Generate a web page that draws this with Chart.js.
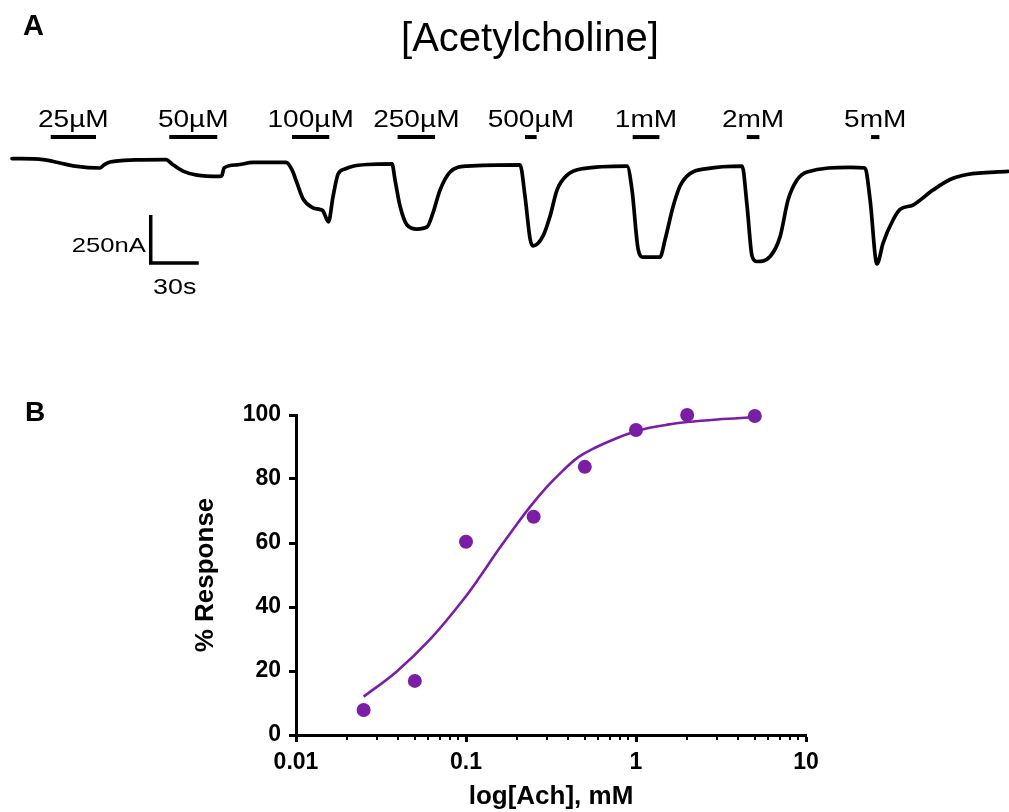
<!DOCTYPE html>
<html>
<head>
<meta charset="utf-8">
<script src="https://cdn.jsdelivr.net/npm/chart.js@4.4.1/dist/chart.umd.min.js"></script>
<style>
  html, body { margin: 0; padding: 0; background: #fff; }
  #figure { position: relative; width: 1009px; height: 812px; overflow: hidden; background: #fff; }
  #traceCanvas { position: absolute; left: 0; top: 0; }
  #doseCanvas { position: absolute; left: 0; top: 380px; }
</style>
</head>
<body>
<div id="figure">
  <canvas id="traceCanvas" width="1009" height="300"></canvas>
  <canvas id="doseCanvas" width="1009" height="432"></canvas>
</div>
<script>
// ---------- Panel A: two-electrode voltage clamp current trace ----------
const traceTimeS = [0, 19.4, 30, 39.4, 55, 57.5, 61.3, 76.9, 96.3, 100, 106.9, 115.6, 130, 131.3, 132.5,
  140.6, 150.6, 171.3, 175, 178.1, 181.9, 188.1, 192.5, 194.4, 197.8, 200.6, 203.8, 208.1, 212.5, 221.9,
  237.5, 239.4, 242.5, 246.9, 253.1, 259.4, 263.1, 267.5, 273.8, 284.4, 317.5, 320.6, 323.8, 325.6, 331.9,
  336.3, 340.6, 346.9, 356.9, 384.4, 387.5, 391.3, 394.4, 405, 408.1, 413.1, 417.5, 423.8, 434.4, 456.3,
  459.4, 462.5, 465.6, 473.8, 480, 485, 490.6, 496.9, 523.8, 533.1, 536.3, 540.6, 544.4, 550.6, 555,
  563.1, 575.6, 586.3, 596.9, 622.5];
const traceCurrentNA = [-3, -8, -26, -42, -52, -36, -21, -10, -8, -31, -68, -89, -96, -89, -52,
  -36, -23, -23, -62, -130, -213, -260, -268, -276, -333, -203, -83, -57, -44, -34,
  -31, -115, -250, -349, -370, -359, -286, -167, -73, -42, -36, -198, -422, -458, -406,
  -302, -167, -89, -55, -42, -167, -474, -516, -516, -427, -255, -146, -81, -55, -42,
  -250, -510, -539, -513, -411, -219, -115, -73, -49, -52, -219, -552, -443, -323, -268,
  -245, -167, -112, -86, -70];

// Acetylcholine applications (start/end in seconds)
const drugLabels = ['25µM', '50µM', '100µM', '250µM', '500µM', '1mM', '2mM', '5mM'];
const drugStartS = [24.2, 98.3, 175, 241, 320.6, 387.9, 459.2, 536.9];
const drugEndS   = [52.5, 128.3, 198.3, 264.4, 327.9, 404.6, 467.1, 542.1];

// Calibration bar
const scaleBarCurrentNA = 250;
const scaleBarTimeS = 30;

// ---------- Panel B: concentration-response ----------
const doseMM = [0.025, 0.05, 0.1, 0.25, 0.5, 1, 2, 5];
const responsePct = [7.8, 16.9, 60.4, 68.2, 83.8, 95.3, 100, 99.7];
const fitMM = [0.025, 0.039, 0.061, 0.096, 0.121, 0.151, 0.19, 0.238, 0.3, 0.373, 0.46, 0.587, 0.75, 0.92, 1.2, 1.5, 2, 3, 5];
const fitPct = [12.0, 19.8, 29.7, 42.2, 49.5, 57.0, 64.4, 71.3, 77.6, 82.7, 86.9, 90.0, 92.5, 94.3, 96.0, 96.9, 97.8, 98.6, 99.3];
const xTickValues = [0.01, 0.1, 1, 10];
const xTickLabels = ['0.01', '0.1', '1', '10'];
const yTickValues = [0, 20, 40, 60, 80, 100];

// ---------- styling ----------
const SANS = '"Liberation Sans", Arial, Helvetica, sans-serif';
const PURPLE = '#7b1ea6';
const BAR_LEVEL_NA = 109;          // height of the application bars above baseline
const SCALE_BAR_T0 = 86.7;         // corner of the calibration bar
const SCALE_BAR_I0 = -547;
const TEXT_STRETCH = 1.22;

function stretchedText(ctx, text, x, y, align, font, sx) {
  ctx.save();
  ctx.font = font;
  ctx.textAlign = align;
  ctx.textBaseline = 'alphabetic';
  ctx.translate(x, y);
  ctx.scale(sx, 1);
  ctx.fillText(text, 0, 0);
  ctx.restore();
}

const traceDecor = {
  id: 'traceDecor',
  afterDraw(chart) {
    const ctx = chart.ctx;
    const xs = chart.scales.x, ys = chart.scales.y;
    ctx.save();
    ctx.fillStyle = '#000';
    ctx.strokeStyle = '#000';

    // panel letter and heading
    ctx.font = 'bold 29px ' + SANS;
    ctx.textAlign = 'left';
    ctx.textBaseline = 'alphabetic';
    ctx.fillText('A', 23, 35);
    ctx.font = '40px ' + SANS;
    ctx.textAlign = 'center';
    ctx.fillText('[Acetylcholine]', 530, 51);

    // concentration labels above each application bar
    const barY = ys.getPixelForValue(BAR_LEVEL_NA);
    drugLabels.forEach((lab, i) => {
      const cx = xs.getPixelForValue((drugStartS[i] + drugEndS[i]) / 2);
      stretchedText(ctx, lab, cx, barY - 10, 'center', '23px ' + SANS, TEXT_STRETCH);
    });

    // calibration bar
    const x0 = xs.getPixelForValue(SCALE_BAR_T0);
    const x1 = xs.getPixelForValue(SCALE_BAR_T0 + scaleBarTimeS);
    const y0 = ys.getPixelForValue(SCALE_BAR_I0);
    const y1 = ys.getPixelForValue(SCALE_BAR_I0 + scaleBarCurrentNA);
    ctx.lineWidth = 3.5;
    ctx.lineCap = 'butt';
    ctx.lineJoin = 'miter';
    ctx.beginPath();
    ctx.moveTo(x0, y1);
    ctx.lineTo(x0, y0);
    ctx.lineTo(x1, y0);
    ctx.stroke();
    stretchedText(ctx, scaleBarCurrentNA + 'nA', x0 - 5, (y0 + y1) / 2 + 13, 'right', '21px ' + SANS, TEXT_STRETCH);
    stretchedText(ctx, scaleBarTimeS + 's', (x0 + x1) / 2, y0 + 31, 'center', '22px ' + SANS, TEXT_STRETCH);
    ctx.restore();
  }
};

new Chart(document.getElementById('traceCanvas'), {
  type: 'line',
  data: {
    datasets: [
      {
        data: traceTimeS.map((t, i) => ({ x: t, y: traceCurrentNA[i] })),
        borderColor: '#000',
        borderWidth: 3.7,
        pointRadius: 0,
        cubicInterpolationMode: 'monotone',
        borderJoinStyle: 'round',
        borderCapStyle: 'round',
        fill: false,
        clip: false
      },
      ...drugStartS.map((s, i) => ({
        data: [{ x: s, y: BAR_LEVEL_NA }, { x: drugEndS[i], y: BAR_LEVEL_NA }],
        borderColor: '#000',
        borderWidth: 4,
        pointRadius: 0,
        borderCapStyle: 'butt',
        fill: false,
        clip: false
      }))
    ]
  },
  options: {
    responsive: false,
    animation: false,
    devicePixelRatio: 1,
    events: [],
    layout: { padding: { left: 12, right: 0, top: 0, bottom: 0 } },
    scales: {
      x: { type: 'linear', display: false, min: 0, max: 623.1 },
      y: { type: 'linear', display: false, min: -739.6, max: 822.9 }
    },
    plugins: { legend: { display: false }, tooltip: { enabled: false } }
  },
  plugins: [traceDecor]
});

// ---------- Panel B chart ----------
const doseDecor = {
  id: 'doseDecor',
  afterDraw(chart) {
    const ctx = chart.ctx;
    const xs = chart.scales.x;
    const bottom = chart.chartArea.bottom;
    ctx.save();
    // minor log ticks
    ctx.strokeStyle = '#000';
    ctx.lineWidth = 2;
    [0.01, 0.1, 1].forEach(dec => {
      for (let m = 2; m <= 9; m++) {
        const px = Math.round(xs.getPixelForValue(m * dec));
        ctx.beginPath();
        ctx.moveTo(px, bottom);
        ctx.lineTo(px, bottom + 5);
        ctx.stroke();
      }
    });
    // panel letter
    ctx.fillStyle = '#000';
    ctx.font = 'bold 28px ' + SANS;
    ctx.textAlign = 'left';
    ctx.textBaseline = 'alphabetic';
    ctx.fillText('B', 25, 41);
    ctx.restore();
  }
};

const axisFont = { family: SANS, size: 23, weight: 'bold' };
const titleFont = { family: SANS, size: 26, weight: 'bold' };

new Chart(document.getElementById('doseCanvas'), {
  type: 'scatter',
  data: {
    datasets: [
      {
        type: 'scatter',
        data: doseMM.map((d, i) => ({ x: d, y: responsePct[i] })),
        backgroundColor: PURPLE,
        borderWidth: 0,
        pointRadius: 7,
        clip: false,
        order: 1
      },
      {
        type: 'line',
        data: fitMM.map((d, i) => ({ x: d, y: fitPct[i] })),
        borderColor: PURPLE,
        borderWidth: 2.6,
        pointRadius: 0,
        tension: 0.4,
        fill: false,
        clip: false,
        order: 2
      }
    ]
  },
  options: {
    responsive: false,
    animation: false,
    devicePixelRatio: 1,
    events: [],
    layout: { padding: { left: 180, right: 203, top: 35, bottom: 0 } },
    scales: {
      x: {
        type: 'logarithmic',
        min: 0.01,
        max: 10,
        afterBuildTicks: s => { s.ticks = xTickValues.map(v => ({ value: v })); },
        afterFit: s => { s.height = 77; },
        ticks: {
          color: '#000',
          font: axisFont,
          padding: 7,
          maxRotation: 0,
          autoSkip: false,
          callback: (v, i) => xTickLabels[i]
        },
        grid: { display: true, drawOnChartArea: false, drawTicks: true, tickLength: 7, tickWidth: 3, tickColor: '#000' },
        border: { display: true, color: '#000', width: 3 },
        title: { display: true, text: 'log[Ach], mM', color: '#000', font: titleFont, padding: { top: 0, bottom: 0 } }
      },
      y: {
        type: 'linear',
        min: 0,
        max: 100,
        afterBuildTicks: s => { s.ticks = yTickValues.map(v => ({ value: v })); },
        afterFit: s => { s.width = 116; },
        ticks: { color: '#000', font: axisFont, padding: 8 },
        grid: { display: true, drawOnChartArea: false, drawTicks: true, tickLength: 7, tickWidth: 3, tickColor: '#000' },
        border: { display: true, color: '#000', width: 3 },
        title: { display: true, text: '% Response', color: '#000', font: titleFont, padding: { top: 10, bottom: 0 } }
      }
    },
    plugins: { legend: { display: false }, tooltip: { enabled: false } }
  },
  plugins: [doseDecor]
});
</script>
</body>
</html>
